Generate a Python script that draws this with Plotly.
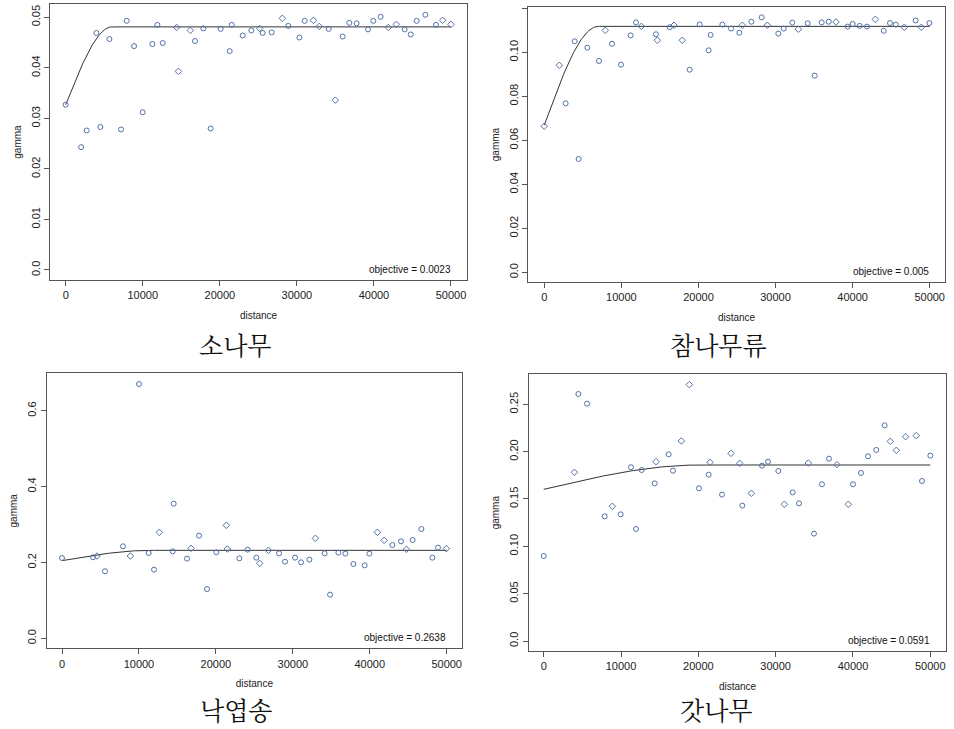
import numpy as np
import plotly.graph_objects as go

# ---------------- data ----------------
# 소나무
p1_dist = [0, 2000, 2725, 3980, 4500, 5670, 7180, 7915, 8870, 9990, 11245, 11895, 12590, 14400, 14620,
           16180, 16780, 17860, 18810, 20110, 21280, 21540, 22970, 24090, 25170, 25560, 26730, 28110,
           28890, 30320, 31010, 32140, 32910, 34130, 34990, 35940, 36810, 37760, 39230, 39920, 40870,
           41870, 42910, 43990, 44770, 45540, 46670, 48050, 48920, 50000]
p1_gamma = [0.0327, 0.0243, 0.0276, 0.0469, 0.0283, 0.0457, 0.0278, 0.0493, 0.0443, 0.0312, 0.0447,
            0.0485, 0.0449, 0.0480, 0.0393, 0.0474, 0.0453, 0.0478, 0.0280, 0.0477, 0.0433, 0.0485,
            0.0464, 0.0474, 0.0478, 0.0469, 0.0470, 0.0498, 0.0483, 0.0460, 0.0493, 0.0494, 0.0482,
            0.0477, 0.0336, 0.0462, 0.0489, 0.0488, 0.0476, 0.0493, 0.0501, 0.0480, 0.0486, 0.0476,
            0.0466, 0.0493, 0.0505, 0.0485, 0.0494, 0.0486]
p1_diamond = [14, 15, 16, 25, 28, 32, 33, 35, 42, 43, 49, 50]

# 참나무류
p2_dist = [0, 1946, 2768, 3936, 4455, 5580, 7093, 7915, 8780, 9948, 11200, 11895, 12590, 14490, 14660,
           16260, 16825, 17900, 18860, 20160, 21320, 21580, 23100, 24220, 25300, 25690, 26860, 28200,
           28935, 30360, 31060, 32180, 32960, 34170, 35080, 35990, 36900, 37850, 39360, 40010, 40920,
           41870, 42950, 44030, 44850, 45590, 46710, 48180, 48920, 49960]
p2_gamma = [0.0664, 0.0941, 0.0768, 0.1050, 0.0515, 0.1021, 0.0961, 0.1100, 0.1039, 0.0944, 0.1077,
            0.1136, 0.1118, 0.1082, 0.1055, 0.1114, 0.1123, 0.1055, 0.0921, 0.1127, 0.1009, 0.1079,
            0.1126, 0.1108, 0.1089, 0.1123, 0.1139, 0.1159, 0.1123, 0.1085, 0.1108, 0.1135, 0.1105,
            0.1132, 0.0894, 0.1136, 0.1139, 0.1138, 0.1117, 0.1129, 0.1120, 0.1117, 0.1150, 0.1098,
            0.1133, 0.1126, 0.1114, 0.1145, 0.1114, 0.1133]
p2_diamond = [1, 2, 8, 13, 15, 17, 18, 26, 29, 33, 38, 43, 47, 49]

# 낙엽송
p3_dist = [0, 4030, 4550, 5590, 7930, 8880, 10010, 11265, 11960, 12650, 14385, 14515, 16250, 16770,
           17810, 18850, 20060, 21360, 21490, 23050, 24130, 25260, 25690, 26820, 28210, 28990, 30290,
           31070, 32150, 32930, 34140, 34840, 35920, 36830, 37870, 39340, 39950, 40990, 41860, 42940,
           44060, 44760, 45580, 46710, 48140, 48870, 49960]
p3_gamma = [0.2117, 0.2135, 0.2170, 0.1766, 0.2425, 0.2170, 0.6703, 0.2249, 0.1810, 0.2794, 0.2293,
            0.3549, 0.2100, 0.2372, 0.2706, 0.1300, 0.2267, 0.2978, 0.2354, 0.2108, 0.2337, 0.2126,
            0.1977, 0.2319, 0.2240, 0.2020, 0.2126, 0.2003, 0.2073, 0.2636, 0.2240, 0.1151, 0.2258,
            0.2231, 0.1959, 0.1924, 0.2231, 0.2794, 0.2583, 0.2460, 0.2556, 0.2346, 0.2592, 0.2881,
            0.2126, 0.2390, 0.2363]
p3_diamond = [3, 6, 10, 14, 18, 19, 23, 24, 30, 38, 39, 42, 47]

# 갓나무
p4_dist = [0, 3966, 4483, 5603, 7888, 8879, 9957, 11293, 11940, 12672, 14353, 14526, 16164, 16724,
           17802, 18836, 20086, 21336, 21509, 23060, 24224, 25345, 25690, 26853, 28233, 29009, 30345,
           31121, 32198, 33017, 34224, 34957, 35991, 36897, 37931, 39397, 40000, 41034, 41940, 43017,
           44095, 44828, 45603, 46810, 48190, 48922, 50000]
p4_gamma = [0.0898, 0.1782, 0.2609, 0.2507, 0.1317, 0.1423, 0.1338, 0.1835, 0.1183, 0.1806, 0.1665,
            0.1894, 0.1972, 0.1799, 0.2113, 0.2708, 0.1613, 0.1757, 0.1887, 0.1546, 0.1982, 0.1877,
            0.1430, 0.1560, 0.1852, 0.1894, 0.1796, 0.1444, 0.1570, 0.1454, 0.1880, 0.1134, 0.1655,
            0.1926, 0.1863, 0.1444, 0.1655, 0.1775, 0.1951, 0.2018, 0.2278, 0.2109, 0.2014, 0.2158,
            0.2169, 0.1690, 0.1958]
p4_diamond = [2, 6, 12, 15, 16, 19, 21, 22, 24, 28, 31, 35, 36, 42, 43, 44, 45]

# fitted spherical models: nugget, sill, range
models = [(0.0327, 0.0481, 6000), (0.0670, 0.1118, 7000), (0.2047, 0.2319, 11500), (0.1602, 0.1859, 20000)]
objectives = ["objective = 0.0023", "objective = 0.005", "objective = 0.2638", "objective = 0.0591"]
titles = ["소나무", "참나무류", "낙엽송", "갓나무"]
xticks = [0, 10000, 20000, 30000, 40000, 50000]
yticks = [[0, 0.01, 0.02, 0.03, 0.04, 0.05],
          [0, 0.02, 0.04, 0.06, 0.08, 0.10, 0.12],
          [0, 0.2, 0.4, 0.6],
          [0, 0.05, 0.10, 0.15, 0.20, 0.25]]
yticktext = [["0.0", "0.01", "0.02", "0.03", "0.04", "0.05"],
             ["0.0", "0.02", "0.04", "0.06", "0.08", "0.10", "0.12"],
             ["0.0", "0.2", "0.4", "0.6"],
             ["0.0", "0.05", "0.10", "0.15", "0.20", "0.25"]]

# ---------------- layout geometry (pixels) ----------------
W, H = 954, 729
boxes = [(50, 467, 4, 280), (528, 945, 7, 282), (46.7, 462, 373.3, 648.3), (528.7, 946.3, 374.3, 651)]
xranges = [(-2037, 52077), (-2115, 51985), (-1989, 51989), (-1940, 52069)]
yranges = [(-0.00198, 0.05263), (-0.00441, 0.1206), (-0.02636, 0.6986), (-0.01056, 0.2817)]
title_pos = [(235, 344), (718, 344), (236, 709), (716, 709)]

datasets = [(p1_dist, p1_gamma, p1_diamond), (p2_dist, p2_gamma, p2_diamond),
            (p3_dist, p3_gamma, p3_diamond), (p4_dist, p4_gamma, p4_diamond)]

PT_COL = "#5272a6"
LINE_COL = "#333333"
TICKFONT = dict(family="Liberation Sans, Arial", size=11, color="#222")

fig = go.Figure()
layout = dict(width=W, height=H, margin=dict(l=0, r=0, t=0, b=0),
              paper_bgcolor="white", plot_bgcolor="white", showlegend=False)
annotations = []

for i in range(4):
    sfx = "" if i == 0 else str(i + 1)
    xa, ya = "x" + sfx, "y" + sfx
    d, g, dia = datasets[i]
    d = np.array(d); g = np.array(g)
    sym = ["diamond-open" if (k + 1) in dia else "circle-open" for k in range(len(d))]
    nug, sill, rng = models[i]
    h = np.linspace(0, 50000, 400)
    r = np.minimum(h / rng, 1.0)
    gm = nug + (sill - nug) * (1.5 * r - 0.5 * r ** 3)
    fig.add_trace(go.Scatter(x=h, y=gm, mode="lines", line=dict(color=LINE_COL, width=1),
                             xaxis=xa, yaxis=ya, hoverinfo="skip"))
    fig.add_trace(go.Scatter(x=d, y=g, mode="markers",
                             marker=dict(symbol=sym, size=5, color=PT_COL, line=dict(color=PT_COL, width=1)),
                             xaxis=xa, yaxis=ya))
    x0, x1, y0, y1 = boxes[i]
    common = dict(showgrid=False, zeroline=False, showline=True, mirror=True, linecolor="#555",
                  linewidth=1, ticks="outside", ticklen=5, tickcolor="#555", tickfont=TICKFONT)
    layout["xaxis" + sfx] = dict(domain=[x0 / W, x1 / W], range=list(xranges[i]), anchor=ya,
                                 tickvals=xticks, ticktext=[str(t) for t in xticks],
                                 title=dict(text="distance", font=dict(family="Liberation Sans, Arial", size=10, color="#222"), standoff=11),
                                 **common)
    layout["yaxis" + sfx] = dict(domain=[1 - y1 / H, 1 - y0 / H], range=list(yranges[i]), anchor=xa,
                                 tickvals=yticks[i], ticktext=yticktext[i], tickangle=-90,
                                 title=dict(text="gamma", font=dict(family="Liberation Sans, Arial", size=10, color="#222"), standoff=6),
                                 **common)
    annotations.append(dict(text=objectives[i], xref=xa + " domain", yref=ya + " domain",
                            x=1, y=0, showarrow=False,
                            xanchor="right", yanchor="bottom", xshift=-14, yshift=3,
                            font=dict(family="Liberation Sans, Arial", size=10, color="#111")))
    tx, ty = title_pos[i]
    annotations.append(dict(text=titles[i], xref="paper", yref="paper", x=tx / W, y=1 - ty / H,
                            showarrow=False, xanchor="center", yanchor="middle",
                            font=dict(family="Noto Serif CJK KR, Noto Sans CJK KR", size=25, color="#111")))

layout["annotations"] = annotations
fig.update_layout(**layout)
fig.write_html("out.html", config={"displayModeBar": False})

# remove default page margin so the figure fits the window exactly
with open("out.html", "r", encoding="utf-8") as f:
    html = f.read()
html = html.replace("<body>", '<body style="margin:0;padding:0;overflow:hidden">', 1)
with open("out.html", "w", encoding="utf-8") as f:
    f.write(html)
